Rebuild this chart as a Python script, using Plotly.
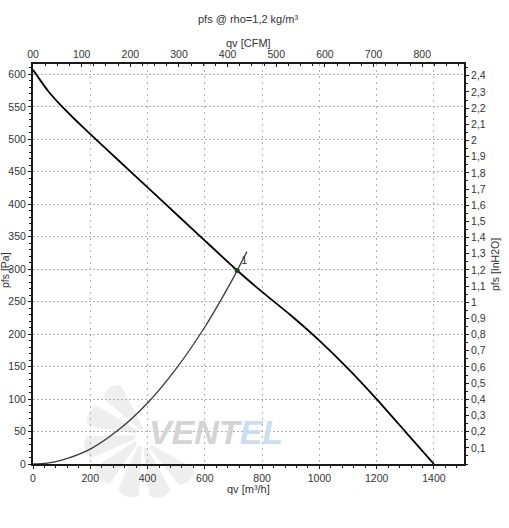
import plotly.graph_objects as go
import math

# ---- data ----
fan_qv = [0, 50, 100, 150, 200, 300, 400, 500, 600, 713, 800, 900, 1000, 1100, 1200, 1300, 1400]
fan_pa = [607, 576, 551, 529, 508, 467, 426, 385, 344, 298, 265, 229, 190, 147, 100, 50, 0]

sys_qv = [0, 50, 100, 200, 300, 400, 500, 600, 700, 713, 747]
sys_pa = [0, 1.5, 6, 23, 53, 94, 147, 211, 287, 298, 327]

op_qv = [713]
op_pa = [298]
op_label = ["1"]

x_ticks = [0, 200, 400, 600, 800, 1000, 1200, 1400]
y_ticks = [0, 50, 100, 150, 200, 250, 300, 350, 400, 450, 500, 550, 600]
cfm_ticks = [0, 100, 200, 300, 400, 500, 600, 700, 800]
cfm_labels = ["00", "100", "200", "300", "400", "500", "600", "700", "800"]
inh2o_ticks = [0.1, 0.2, 0.3, 0.4, 0.5, 0.6, 0.7, 0.8, 0.9, 1.0, 1.1, 1.2, 1.3, 1.4,
               1.5, 1.6, 1.7, 1.8, 1.9, 2.0, 2.1, 2.2, 2.3, 2.4]
inh2o_labels = [("%g" % v).replace(".", ",") for v in inh2o_ticks]

X_MAX = 1505
Y_MAX = 616
M3H_PER_CFM = 1.699
PA_PER_INH2O = 249.09

FONT = "Liberation Sans, Arial, sans-serif"
TXT = "#333333"
AX = "#1a1a1a"
GRID = "#b0b0b0"
TICKSIZE = 10.5

fig = go.Figure()

fig.add_trace(go.Scatter(x=sys_qv, y=sys_pa, mode="lines",
                         line=dict(color="#3a3a3a", width=1.3, shape="spline"),
                         hoverinfo="skip", showlegend=False))
fig.add_trace(go.Scatter(x=fan_qv, y=fan_pa, mode="lines",
                         line=dict(color="#000000", width=1.8, shape="spline", smoothing=0.5),
                         hoverinfo="skip", showlegend=False))
fig.add_trace(go.Scatter(x=op_qv, y=op_pa, mode="markers+text", text=op_label,
                         textposition="top right",
                         textfont=dict(family=FONT, size=11, color=TXT),
                         marker=dict(color="#1f3d1f", size=5),
                         hoverinfo="skip", showlegend=False))
# invisible traces to activate secondary axes
fig.add_trace(go.Scatter(x=[0], y=[0], xaxis="x2", yaxis="y", mode="markers",
                         marker=dict(opacity=0), showlegend=False, hoverinfo="skip"))
fig.add_trace(go.Scatter(x=[0], y=[0], xaxis="x", yaxis="y2", mode="markers",
                         marker=dict(opacity=0), showlegend=False, hoverinfo="skip"))

L, R, T, B = 33, 45, 64, 64
W, H = 509, 528
PW, PH = W - L - R, H - T - B


def px(xp):
    return (xp - L) / PW


def py(yp):
    return (H - B - yp) / PH


# watermark fan blades
shapes = []
cx, cy = 145, 438
for k in range(7):
    a0 = math.radians(100 + k * 32)
    a1 = a0 + math.radians(22)
    r0, r1 = 10, 58
    p = [(cx + r0 * math.cos(a0), cy - r0 * math.sin(a0)),
         (cx + r1 * math.cos(a0 + 0.25), cy - r1 * math.sin(a0 + 0.25)),
         (cx + r1 * math.cos(a1 + 0.25), cy - r1 * math.sin(a1 + 0.25)),
         (cx + r0 * math.cos(a1), cy - r0 * math.sin(a1))]
    path = "M {:.4f},{:.4f} L {:.4f},{:.4f} Q {:.4f},{:.4f} {:.4f},{:.4f} L {:.4f},{:.4f} Z".format(
        px(p[0][0]), py(p[0][1]), px(p[1][0]), py(p[1][1]),
        px(cx + (r1 + 8) * math.cos((a0 + a1) / 2 + 0.25)), py(cy - (r1 + 8) * math.sin((a0 + a1) / 2 + 0.25)),
        px(p[2][0]), py(p[2][1]), px(p[3][0]), py(p[3][1]))
    shapes.append(dict(type="path", path=path, xref="paper", yref="paper",
                       fillcolor="#eeeeee", line=dict(width=0), layer="below"))


def ann(text, x, y, angle=0, size=11, color=TXT, family=FONT, xshift=0):
    return dict(text=text, x=px(x), y=py(y), xref="paper", yref="paper",
                xanchor="center", yanchor="middle", textangle=angle, xshift=xshift,
                showarrow=False, font=dict(family=family, size=size, color=color))


annotations = [
    ann("pfs @ rho=1,2 kg/m³", 248, 19),
    ann("qv [CFM]", 248, 43),
    ann("qv [m³/h]", 248, 489),
    dict(text="pfs [Pa]", x=0, y=py(270), xref="paper", yref="paper",
         xanchor="right", yanchor="middle", textangle=-90, xshift=-20,
         showarrow=False, font=dict(family=FONT, size=10.5, color=TXT)),
    dict(text="pfs [InH2O]", x=1, y=py(265), xref="paper", yref="paper",
         xanchor="left", yanchor="middle", textangle=-90, xshift=23,
         showarrow=False, font=dict(family=FONT, size=10.5, color=TXT)),
    ann("<b><i>VENT<span style='color:#c9dff1'>EL</span></i></b>", 216, 432,
        size=34, color="#d4d4d4", family="Liberation Sans, Arial"),
]

common = dict(automargin=False, tickcolor=AX, showline=True, linecolor=AX, linewidth=2,
              zeroline=False, tickfont=dict(family=FONT, size=TICKSIZE, color=TXT))

fig.update_layout(
    width=W, height=H,
    margin=dict(l=L, r=R, t=T, b=B, pad=0, autoexpand=False),
    paper_bgcolor="white", plot_bgcolor="white",
    font=dict(family=FONT, size=11, color=TXT),
    showlegend=False,
    shapes=shapes,
    annotations=annotations,
    xaxis=dict(range=[0, X_MAX], tickvals=x_ticks, ticks="outside", ticklen=3,
               showgrid=True, gridcolor=GRID, griddash="2px,4px", gridwidth=1,
               minor=dict(dtick=40, ticks="outside", ticklen=2, tickcolor=AX, showgrid=False),
               **common),
    xaxis2=dict(range=[0, X_MAX / M3H_PER_CFM], overlaying="x", side="top",
                tickvals=cfm_ticks, ticktext=cfm_labels, ticks="inside", ticklen=3,
                showgrid=False,
                minor=dict(dtick=25, ticks="inside", ticklen=2, tickcolor=AX),
                **common),
    yaxis=dict(range=[0, Y_MAX], tickvals=y_ticks, ticks="outside", ticklen=3,
               showgrid=True, gridcolor=GRID, griddash="2px,2px", gridwidth=1,
               minor=dict(dtick=10, ticks="outside", ticklen=2, tickcolor=AX, showgrid=False),
               **common),
    yaxis2=dict(range=[0, Y_MAX / PA_PER_INH2O], overlaying="y", side="right",
                tickvals=inh2o_ticks, ticktext=inh2o_labels, ticks="outside", ticklen=3,
                showgrid=False,
                minor=dict(dtick=0.05, ticks="outside", ticklen=2, tickcolor=AX),
                **common),
)

fig.write_html("out.html")
